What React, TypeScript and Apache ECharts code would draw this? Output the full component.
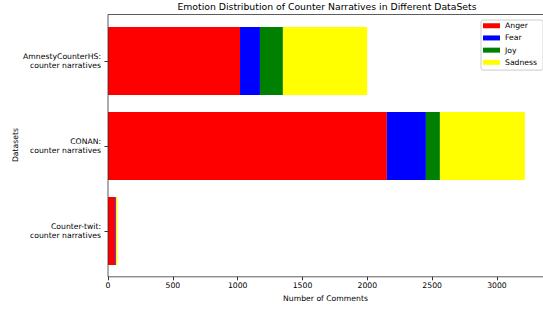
import React, { useEffect, useRef } from "react";
import * as echarts from "echarts";

const categories = [
  "Counter-twit:\ncounter narratives",
  "CONAN:\ncounter narratives",
  "AmnestyCounterHS:\ncounter narratives",
];
const seriesNames = ["Anger", "Fear", "Joy", "Sadness"];
const seriesColors = ["#ff0000", "#0000ff", "#008000", "#ffff00"];
const anger = [56, 2151, 1018];
const fear = [5, 301, 154];
const joy = [2, 108, 177];
const sadness = [10, 655, 650];
const xTicks = [0, 500, 1000, 1500, 2000, 2500, 3000];

const FONT = "DejaVu Sans";
const FS = 7.7;

export default function App() {
  const ref = useRef<HTMLDivElement>(null);
  useEffect(() => {
    if (!ref.current) return;
    const chart = echarts.init(ref.current, undefined, { renderer: "svg" });
    const values = [anger, fear, joy, sadness];
    const spine = { stroke: "#333", lineWidth: 0.8 };
    chart.setOption({
      animation: false,
      backgroundColor: "#ffffff",
      textStyle: { fontFamily: FONT },
      grid: {
        left: 108,
        right: 0,
        top: 18.5,
        height: 255,
        containLabel: false,
        outerBoundsMode: "none",
      },
      legend: {
        orient: "vertical",
        left: 481,
        top: 20,
        padding: [1, 6, 3, 2],
        itemWidth: 17,
        itemHeight: 5,
        itemGap: 2.7,
        icon: "rect",
        borderColor: "#cccccc",
        borderWidth: 1,
        borderRadius: 2,
        backgroundColor: "#ffffff",
        textStyle: { fontFamily: FONT, fontSize: FS, color: "#000", lineHeight: 9.5 },
        data: seriesNames,
      },
      xAxis: {
        type: "value",
        min: 0,
        max: 3355,
        interval: 500,
        offset: 3.3,
        name: "Number of Comments",
        nameLocation: "middle",
        nameGap: 15,
        nameTextStyle: { fontFamily: FONT, fontSize: FS, color: "#000" },
        axisLine: { show: false },
        axisTick: { show: true, length: 3.5, lineStyle: { color: "#000", width: 0.8 } },
        splitLine: { show: false },
        axisLabel: {
          fontFamily: FONT,
          fontSize: FS,
          color: "#000",
          margin: 5,
          showMaxLabel: false,
          formatter: (v: number) => (xTicks.indexOf(v) >= 0 ? String(v) : ""),
        },
      },
      yAxis: {
        type: "category",
        data: categories,
        axisLine: { show: false },
        axisTick: { show: true, alignWithLabel: true, length: 3.5, lineStyle: { color: "#000", width: 0.8 } },
        axisLabel: {
          fontFamily: FONT,
          fontSize: FS,
          color: "#000",
          lineHeight: 9.6,
          margin: 7,
          align: "right",
        },
      },
      series: seriesNames.map((n, i) => ({
        name: n,
        type: "bar",
        stack: "total",
        barWidth: 68,
        itemStyle: { color: seriesColors[i] },
        data: values[i],
      })),
      graphic: [
        { type: "line", shape: { x1: 108, y1: 14.5, x2: 543, y2: 14.5 }, style: spine, silent: true, z: 10 },
        { type: "line", shape: { x1: 108, y1: 14.5, x2: 108, y2: 276.8 }, style: spine, silent: true, z: 10 },
        { type: "line", shape: { x1: 108, y1: 276.8, x2: 543, y2: 276.8 }, style: spine, silent: true, z: 10 },
        {
          type: "text",
          x: 15,
          y: 145,
          rotation: Math.PI / 2,
          style: {
            text: "Datasets",
            fontFamily: FONT,
            fontSize: FS,
            fill: "#000",
            align: "center",
            verticalAlign: "middle",
          },
        },
        {
          type: "text",
          x: 327,
          y: 6.5,
          style: {
            text: "Emotion Distribution of Counter Narratives in Different DataSets",
            fontFamily: FONT,
            fontSize: 9.3,
            fill: "#000",
            align: "center",
            verticalAlign: "middle",
          },
        },
      ],
    });
    return () => chart.dispose();
  }, []);
  return (
    <div
      ref={ref}
      style={{ position: "fixed", left: 0, top: 0, width: 543, height: 309 }}
    />
  );
}
